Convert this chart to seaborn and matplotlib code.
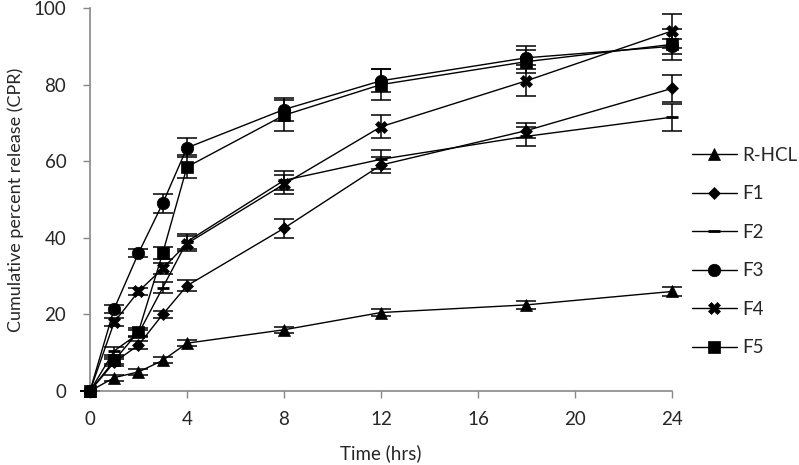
import matplotlib
matplotlib.use("Agg")
import matplotlib.pyplot as plt
import seaborn as sns
import numpy as np

times = [0, 1, 2, 3, 4, 8, 12, 18, 24]
series_names = ["R-HCL", "F1", "F2", "F3", "F4", "F5"]
r_hcl = [0, 3.5, 5, 8, 12.5, 16, 20.5, 22.5, 26]
f1 = [0, 7.5, 12, 20, 27.5, 42.5, 59, 68, 79]
f2 = [0, 10.5, 15, 27, 39, 55, 60.5, 66.5, 71.5]
f3 = [0, 21.5, 36, 49, 63.5, 73.5, 81, 87, 90]
f4 = [0, 18, 26, 32, 38.5, 54, 69, 81, 94]
f5 = [0, 8, 15.5, 36, 58.5, 72, 80, 86, 90.5]

err_r_hcl = [0, 0.8, 0.8, 0.8, 0.8, 0.8, 1.0, 1.0, 1.2]
err_f1 = [0, 1.0, 1.0, 1.0, 1.5, 2.5, 2.0, 2.0, 3.5]
err_f2 = [0, 1.0, 1.0, 1.5, 2.0, 2.5, 2.5, 2.5, 3.5]
err_f3 = [0, 1.0, 1.0, 2.5, 2.5, 3.0, 3.0, 3.0, 2.0]
err_f4 = [0, 1.0, 1.0, 1.5, 2.0, 2.5, 3.0, 4.0, 4.5]
err_f5 = [0, 1.0, 1.0, 1.5, 3.0, 4.0, 4.0, 3.0, 4.0]

values = [r_hcl, f1, f2, f3, f4, f5]
errors = [err_r_hcl, err_f1, err_f2, err_f3, err_f4, err_f5]
markers = ["^", "D", "_", "o", "X", "s"]
msizes = [8, 6, 9, 9, 8, 8]

sns.set_style("white")
plt.rcParams["font.family"] = ["Lato", "DejaVu Sans"]
FS = 13.5

fig = plt.figure(figsize=(7.99, 4.65), dpi=100)
ax = fig.add_axes([0.1126, 0.159, 0.841 - 0.1126, 0.9828 - 0.159])

for name, vals, errs, mk, ms in zip(series_names, values, errors, markers, msizes):
    ax.errorbar(times, vals, yerr=errs, fmt="none", ecolor="black",
                elinewidth=1.1, capsize=7, capthick=1.1, clip_on=False, zorder=2)
    sns.lineplot(x=times, y=vals, ax=ax, color="black", linewidth=1.0,
                 marker=mk, markersize=ms, markeredgecolor="black",
                 markerfacecolor="black", markeredgewidth=2 if mk == "_" else 0.5,
                 label=name, clip_on=False, zorder=3)

ax.set_xlim(0, 24)
ax.set_ylim(0, 100)
ax.set_xticks(np.arange(0, 25, 4))
ax.set_yticks(np.arange(0, 101, 20))
ax.tick_params(axis="both", labelsize=FS, length=5, width=1, color="#888888",
               direction="out", bottom=True, left=True)
ax.tick_params(axis="x", pad=9)
ax.tick_params(axis="y", pad=12)
for side in ["top", "right"]:
    ax.spines[side].set_visible(False)
for side in ["left", "bottom"]:
    ax.spines[side].set_color("#888888")
    ax.spines[side].set_linewidth(1.2)

ax.set_xlabel("Time (hrs)", fontsize=FS, labelpad=12)
ax.set_ylabel("Cumulative percent release (CPR)", fontsize=13, labelpad=7)

ax.legend(loc="center left", bbox_to_anchor=(0.866, 0.459), bbox_transform=fig.transFigure,
          frameon=False, fontsize=FS, handlelength=2.4, labelspacing=1.15,
          handletextpad=0.3, borderaxespad=0, borderpad=0)

fig.savefig("out.png", dpi=100)
